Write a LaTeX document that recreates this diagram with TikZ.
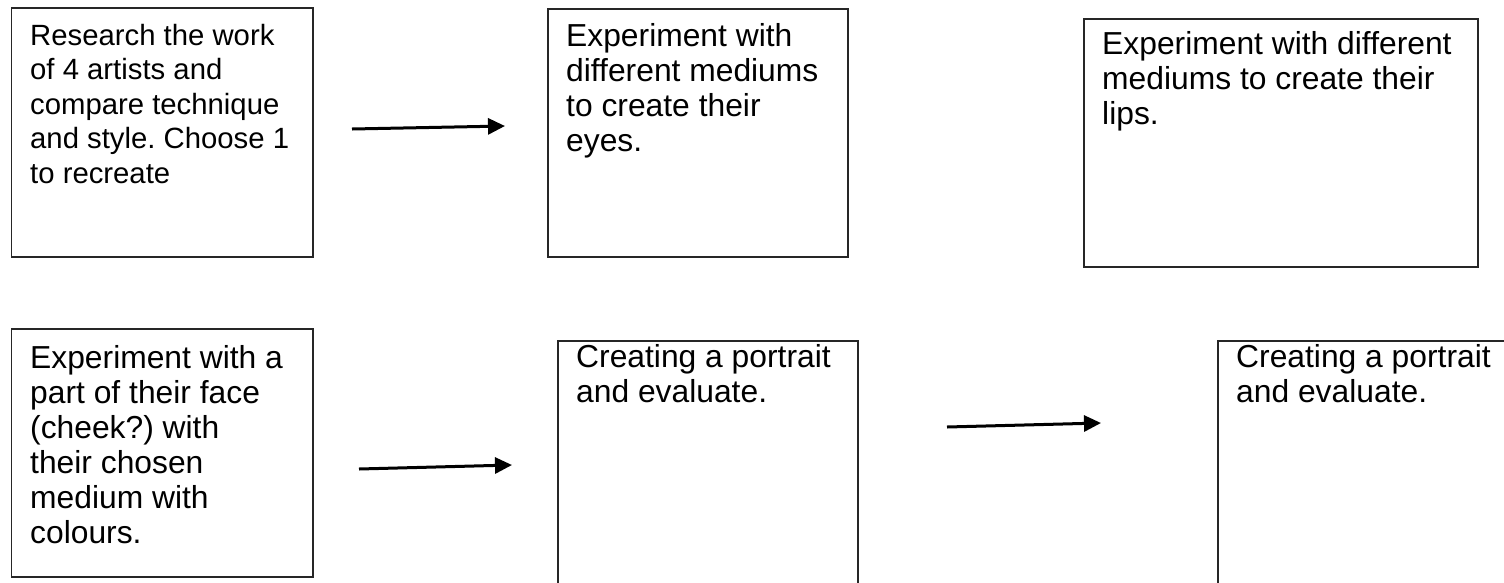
\documentclass[tikz,border=0pt]{standalone}
\usepackage{fontspec}
\setmainfont{Liberation Sans}
\usetikzlibrary{arrows.meta}
\frenchspacing
\tikzset{
  x=1pt, y=-1pt,
  stepbox/.style={draw=black!85, line width=1.6pt, rectangle, inner sep=0pt, anchor=north west},
  smalltxt/.style={anchor=north west, inner sep=0pt, align=left, font=\fontsize{29.3}{34.5}\selectfont},
  bigtxt/.style={anchor=north west, inner sep=0pt, align=left, font=\fontsize{31.8}{35}\selectfont},
  flow/.style={line width=3pt, -{Triangle[length=17pt,width=16pt]}}
}
\newcommand{\topstrut}{\rule{0pt}{26pt}}
\begin{document}
\begin{tikzpicture}
\clip (0,0) rectangle (1504,582);
\fill[white] (0,0) rectangle (1504,582);
% boxes
\node[stepbox, minimum width=301.5pt, minimum height=249pt] (b1) at (10.5,7) {};
\node[stepbox, minimum width=300pt, minimum height=248pt] (b2) at (547,8) {};
\node[stepbox, minimum width=394pt, minimum height=248pt] (b3) at (1083,18) {};
\node[stepbox, minimum width=301.5pt, minimum height=248pt] (b4) at (10.5,328) {};
\node[stepbox, minimum width=300pt, minimum height=270pt] (b5) at (557,340) {};
\node[stepbox, minimum width=320pt, minimum height=270pt] (b6) at (1217,340) {};
% texts (first baseline = top + 26)
\node[smalltxt] (t1) at (30,19) {\topstrut Research the work\\of 4 artists and\\compare technique\\and style. Choose 1\\to recreate};
\node[bigtxt] (t2) at (566,20) {\topstrut Experiment with\\different mediums\\to create their\\eyes.};
\node[bigtxt] (t3) at (1102,28) {\topstrut Experiment with different\\mediums to create their\\lips.};
\node[bigtxt] (t4) at (30,342) {\topstrut Experiment with a\\part of their face\\(cheek?) with\\their chosen\\medium with\\colours.};
\node[bigtxt] (t5) at (576,341) {\topstrut Creating a portrait\\and evaluate.};
\node[bigtxt] (t6) at (1236,341) {\topstrut Creating a portrait\\and evaluate.};
% arrows
\coordinate (a1s) at (352,129);
\coordinate (a1e) at (505,126);
\coordinate (a2s) at (359,469);
\coordinate (a2e) at (512,465);
\coordinate (a3s) at (947,427);
\coordinate (a3e) at (1101,423);
\draw[flow] (a1s) -- (a1e);
\draw[flow] (a2s) -- (a2e);
\draw[flow] (a3s) -- (a3e);
\end{tikzpicture}
\end{document}
